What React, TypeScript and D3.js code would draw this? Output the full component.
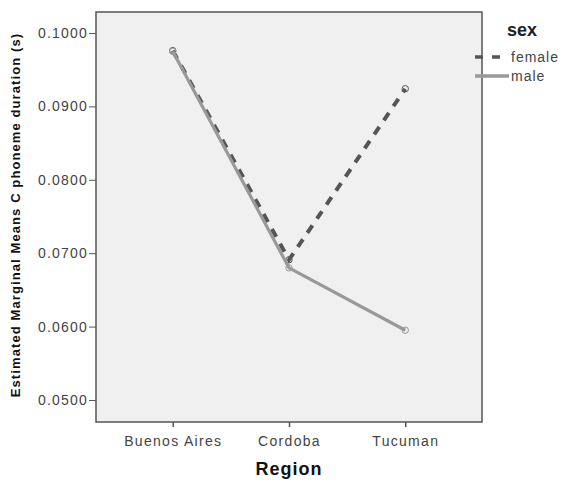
import { useEffect, useRef } from 'react';
import * as d3 from 'd3';

const width = 563;
const height = 483;
const [mt, mr, mb, ml] = [12, 81, 61, 96];

const regions = ['Buenos Aires', 'Cordoba', 'Tucuman'];
const female = [0.0976, 0.0691, 0.0924];
const male = [0.0975, 0.068, 0.0595];
const yTicks = [0.05, 0.06, 0.07, 0.08, 0.09, 0.1];

const font = 'Arial, "Liberation Sans", sans-serif';

export default function App() {
    const ref = useRef<SVGSVGElement>(null);

    useEffect(() => {
        const svg = d3.select(ref.current);
        svg.selectAll('*').remove();

        const x = d3.scalePoint<string>().domain(regions).range([ml, width - mr]).padding(0.66);
        const y = d3.scaleLinear().domain([0.047, 0.10286]).range([height - mb, mt]);

        // frame
        svg.append('rect')
            .attr('x', ml)
            .attr('y', mt)
            .attr('width', width - mr - ml)
            .attr('height', height - mb - mt)
            .attr('fill', '#f0f0f0')
            .attr('stroke', '#555')
            .attr('stroke-width', 1.5);

        // y axis
        const yAxis = svg.append('g')
            .attr('transform', `translate(${ml},0)`)
            .call(d3.axisLeft(y).tickValues(yTicks).tickFormat(d3.format('.4f')).tickSize(7).tickPadding(1).tickSizeOuter(0));
        yAxis.select('.domain').remove();
        yAxis.selectAll('line').attr('stroke', '#555');
        yAxis.selectAll('text')
            .attr('font-family', font)
            .attr('font-size', 14)
            .attr('letter-spacing', 1.2)
            .attr('fill', '#444');

        // x axis
        const xAxis = svg.append('g')
            .attr('transform', `translate(0,${height - mb})`)
            .call(d3.axisBottom(x).tickSize(5).tickSizeOuter(0));
        xAxis.select('.domain').remove();
        xAxis.selectAll('line').attr('stroke', '#555').attr('stroke-width', 1.5);
        xAxis.selectAll('text')
            .attr('font-family', font)
            .attr('font-size', 14)
            .attr('letter-spacing', 1.3)
            .attr('fill', '#444')
            .attr('dy', '1.15em');

        const line = d3.line<number>()
            .x((_, i) => x(regions[i])!)
            .y((d) => y(d));

        const series = [
            { name: 'female', values: female, color: '#555', dash: '9,8', w: 4 },
            { name: 'male', values: male, color: '#999', dash: null, w: 3.2 }
        ];

        series.forEach((s) => {
            svg.append('path')
                .datum(s.values)
                .attr('d', line)
                .attr('fill', 'none')
                .attr('stroke', s.color)
                .attr('stroke-width', s.w)
                .attr('stroke-dasharray', s.dash);
            svg.append('g')
                .selectAll('circle')
                .data(s.values)
                .join('circle')
                .attr('cx', (_, i) => x(regions[i])!)
                .attr('cy', (d) => y(d))
                .attr('r', 3.2)
                .attr('fill', 'none')
                .attr('stroke', s.color)
                .attr('stroke-width', 1);
        });

        // axis titles
        svg.append('text')
            .attr('x', (ml + width - mr) / 2)
            .attr('y', 475)
            .attr('text-anchor', 'middle')
            .attr('font-family', font)
            .attr('font-weight', 'bold')
            .attr('font-size', 18)
            .attr('letter-spacing', 1)
            .attr('fill', '#111')
            .text('Region');

        svg.append('text')
            .attr('transform', 'translate(20,215) rotate(-90)')
            .attr('text-anchor', 'middle')
            .attr('font-family', font)
            .attr('font-weight', 'bold')
            .attr('font-size', 13)
            .attr('letter-spacing', 1.1)
            .attr('fill', '#111')
            .text('Estimated Marginal Means C phoneme duration (s)');

        // legend
        const lg = svg.append('g').attr('transform', 'translate(475,0)');
        lg.append('text')
            .attr('x', 32)
            .attr('y', 36)
            .attr('font-family', font)
            .attr('font-weight', 'bold')
            .attr('font-size', 18)
            .attr('fill', '#222')
            .text('sex');
        const items = [
            { name: 'female', color: '#555', dash: '8,9', y: 57, ty: 62 },
            { name: 'male', color: '#999', dash: null, y: 76, ty: 81 }
        ];
        items.forEach((it) => {
            lg.append('line')
                .attr('x1', 0)
                .attr('x2', 34)
                .attr('y1', it.y)
                .attr('y2', it.y)
                .attr('stroke', it.color)
                .attr('stroke-width', 3.5)
                .attr('stroke-dasharray', it.dash);
            lg.append('text')
                .attr('x', 36)
                .attr('y', it.ty)
                .attr('font-family', font)
                .attr('font-size', 14)
                .attr('letter-spacing', 1)
                .attr('fill', '#444')
                .text(it.name);
        });
    }, []);

    return (
        <svg
            ref={ref}
            width={width}
            height={height}
            style={{ position: 'absolute', left: 0, top: 0, background: '#fff' }}
        />
    );
}
